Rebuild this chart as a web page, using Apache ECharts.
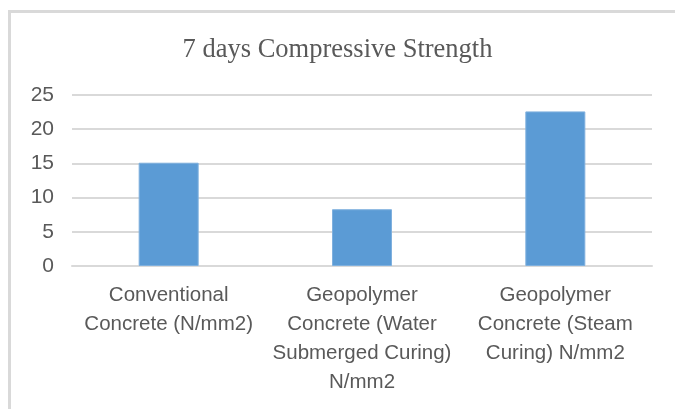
<!DOCTYPE html>
<html>
<head>
<meta charset="utf-8">
<script src="https://cdn.jsdelivr.net/npm/echarts@6/dist/echarts.min.js"></script>
<style>
html,body{margin:0;padding:0;background:#fff;}
#chart{width:675px;height:409px;}
</style>
</head>
<body>
<div id="chart"></div>
<script>
const titleText = '7 days Compressive Strength';
const categories = [
  'Conventional\nConcrete (N/mm2)',
  'Geopolymer\nConcrete (Water\nSubmerged Curing)\nN/mm2',
  'Geopolymer\nConcrete (Steam\nCuring) N/mm2'
];
const strengthValues = [15.1, 8.3, 22.6];
const yTicks = [0, 5, 10, 15, 20, 25];

const chart = echarts.init(document.getElementById('chart'), null, {renderer: 'canvas'});
chart.setOption({
  animation: false,
  backgroundColor: '#ffffff',
  graphic: [{
    type: 'rect',
    shape: {x: 9.5, y: 11.5, width: 700, height: 420},
    style: {fill: 'none', stroke: '#d9d9d9', lineWidth: 3},
    silent: true
  }],
  title: {
    text: titleText,
    left: 'center',
    top: 30,
    textStyle: {fontFamily: '"Liberation Serif", "Times New Roman", serif', fontSize: 26.5, fontWeight: 'normal', color: '#595959', lineHeight: 30}
  },
  grid: {left: 72, right: 23, top: 95, bottom: 143, containLabel: false},
  xAxis: {
    type: 'category',
    data: categories,
    axisLine: {show: true, lineStyle: {color: '#d9d9d9', width: 2}},
    axisTick: {show: false},
    axisLabel: {
      interval: 0,
      margin: 15,
      color: '#595959',
      fontFamily: '"Liberation Sans", Arial, sans-serif',
      fontSize: 20.5,
      lineHeight: 29
    }
  },
  yAxis: {
    type: 'value',
    min: yTicks[0],
    max: yTicks[yTicks.length - 1],
    interval: 5,
    axisLine: {show: false},
    axisTick: {show: false},
    splitLine: {lineStyle: {color: '#d9d9d9', width: 2}},
    axisLabel: {
      margin: 18,
      color: '#595959',
      fontFamily: '"Liberation Sans", Arial, sans-serif',
      fontSize: 21
    }
  },
  series: [{
    type: 'bar',
    data: strengthValues,
    barWidth: 60,
    itemStyle: {color: '#5b9bd5', borderColor: '#7fb0de', borderWidth: 1}
  }]
});
</script>
</body>
</html>
